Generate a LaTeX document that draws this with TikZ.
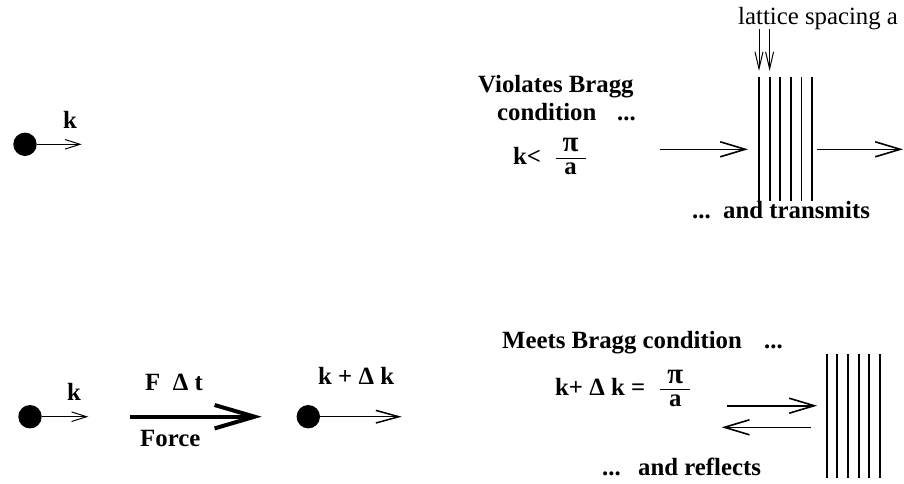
\documentclass[tikz,border=0pt]{standalone}
\usepackage{fontspec}
\setmainfont{Liberation Serif}
\usetikzlibrary{arrows.meta}
\newcommand{\mypi}{{\fontsize{29}{30}\selectfont π}}
\newcommand{\myfrac}{$\frac{\makebox[30pt]{\raisebox{2.5pt}{\mypi}}}{\makebox[30pt]{\raisebox{-2pt}{a}}}$}
\begin{document}
\begin{tikzpicture}[x=1pt,y=-1pt,
  lbl/.style={inner sep=0pt,anchor=base west,font=\fontsize{24.8}{30}\selectfont\bfseries},
  plainlbl/.style={inner sep=0pt,anchor=base west,font=\fontsize{24.8}{30}\selectfont},
  fraclbl/.style={inner sep=0pt,anchor=base,font=\fontsize{24.8}{30}\selectfont\bfseries},
  particle/.style={circle,fill=black,inner sep=0pt,minimum size=23.4pt},
  smallarr/.style={line width=1pt,-{Straight Barb[length=15pt,width=9.5pt]}},
  midarr/.style={line width=1.5pt,-{Straight Barb[length=23pt,width=12.6pt]}},
  bigarr/.style={line width=1.6pt,-{Straight Barb[length=25pt,width=15pt]}},
  downarr/.style={line width=1pt,-{Straight Barb[length=17pt,width=8pt]}},
  forcearr/.style={line width=4pt,-{Straight Barb[length=40pt,width=23.4pt]}},
  latline/.style={line width=1.8pt}]
\useasboundingbox (0,0) rectangle (904,483);

% ---- top left particle
\node[particle] (p1) at (25,144.3) {};
\coordinate (p1e) at (81.7,144.3);
\draw[smallarr] (p1.east) -- (p1e);
\node[lbl] (k1) at (63,128.3) {k};

% ---- top right: violates Bragg
\node[lbl] (viol) at (478,92.7) {Violates Bragg};
\node[lbl] (cond) at (497,120.7) {condition};
\node[lbl] (dots1) at (617,120.7) {...};
\node[lbl] (klt) at (513,164) {k<};
\node[fraclbl] (frac1) at (570.5,164) {\myfrac};

\node[plainlbl] (lat) at (738,24) {lattice spacing a};
\coordinate (d1s) at (759,29); \coordinate (d1e) at (759,71);
\coordinate (d2s) at (769.6,29); \coordinate (d2e) at (769.6,71);
\draw[downarr] (d1s) -- (d1e);
\draw[downarr] (d2s) -- (d2e);
\foreach \i in {0,...,5}{
  \draw[latline] (759+\i*10.6,76.7) -- (759+\i*10.6,200.7);
}
\coordinate (in1s) at (660,149.3); \coordinate (in1e) at (748,149.3);
\coordinate (out1s) at (816.7,149.3); \coordinate (out1e) at (903,149.3);
\draw[bigarr] (in1s) -- (in1e);
\draw[bigarr] (out1s) -- (out1e);
\node[lbl] (dots2) at (692,218) {...};
\node[lbl] (trans) at (723,218) {and transmits};

% ---- bottom left
\node[particle] (p2) at (30,416.7) {};
\coordinate (p2e) at (88.3,416.7);
\draw[smallarr] (p2.east) -- (p2e);
\node[lbl] (k2) at (67,400.7) {k};

\coordinate (fs) at (130,416.7); \coordinate (fe) at (261.7,416.7);
\draw[forcearr] (fs) -- (fe);
\node[lbl] (fdt) at (145,390.7) {F\ \ Δ t};
\node[lbl] (force) at (140,446.7) {Force};

\node[particle] (p3) at (308.3,416.7) {};
\coordinate (p3e) at (401.7,416.7);
\draw[midarr] (p3.east) -- (p3e);
\node[lbl] (kdk) at (318,384.3) {k + Δ k};

% ---- bottom right: meets Bragg
\node[lbl] (meets) at (502,348) {Meets Bragg condition};
\node[lbl] (dots3) at (764,348) {...};
\node[lbl] (kpdk) at (555,395.7) {k+ Δ k =};
\node[fraclbl] (frac2) at (675.3,395.5) {\myfrac};

\coordinate (r1s) at (727,405.7); \coordinate (r1e) at (817,405.7);
\coordinate (l1s) at (810.7,427.3); \coordinate (l1e) at (721.7,427.3);
\draw[bigarr] (r1s) -- (r1e);
\draw[bigarr] (l1s) -- (l1e);
\foreach \i in {0,...,5}{
  \draw[latline] (826.7+\i*10.66,354) -- (826.7+\i*10.66,478);
}
\node[lbl] (dots4) at (602,475) {...};
\node[lbl] (refl) at (638,475) {and reflects};
\end{tikzpicture}
\end{document}
